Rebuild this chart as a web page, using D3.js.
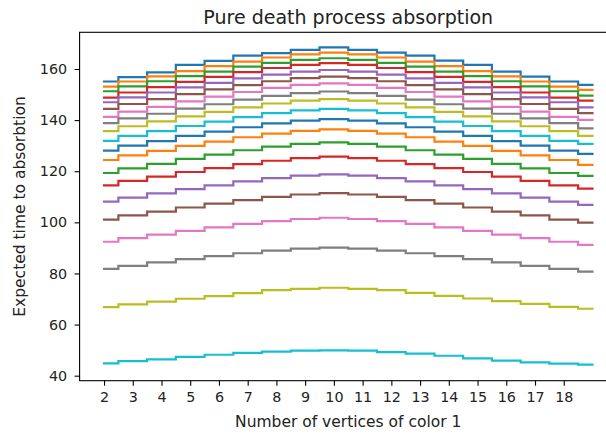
<!DOCTYPE html>
<html>
<head>
<meta charset="utf-8">
<script src="https://cdn.jsdelivr.net/npm/d3@7"></script>
<style>
  html, body { margin: 0; padding: 0; background: #fff; }
  svg { display: block; font-family: "DejaVu Sans", sans-serif; }
</style>
</head>
<body>
<svg id="chart" width="606" height="435"></svg>
<script>
// ---------- data ----------
const xValues = [2,3,4,5,6,7,8,9,10,11,12,13,14,15,16,17,18,19];
const xTickValues = [2,3,4,5,6,7,8,9,10,11,12,13,14,15,16,17,18];
const yTickValues = [40,60,80,100,120,140,160];

const line00 = [155.1,156.8,158.7,161.6,163.2,165.2,166.2,167.5,168.5,167.5,166.4,165.2,163.3,161.6,159.0,157.0,155.1,153.8];
const line01 = [153.1,155.1,157.1,159.2,161.1,162.9,164.5,165.7,166.4,165.7,164.5,162.9,161.1,159.2,157.1,155.1,153.1,151.8];
const line02 = [151.3,153.2,155.2,157.2,159.0,160.9,162.4,163.6,164.2,163.6,162.4,160.9,159.0,157.2,155.2,153.2,151.3,149.6];
const line03 = [148.8,150.8,152.9,155.0,156.9,158.8,160.4,161.6,162.3,161.6,160.4,158.8,156.9,155.0,152.9,150.8,148.8,147.6];
const line04 = [147.0,148.9,150.8,152.8,154.6,156.3,157.8,159.0,159.6,159.0,157.8,156.3,154.6,152.8,150.8,148.9,147.0,145.0];
const line05 = [144.4,146.3,148.2,150.2,152.0,153.7,155.2,156.4,157.0,156.4,155.2,153.7,152.0,150.2,148.2,146.3,144.4,142.7];
const line06 = [141.3,143.3,145.2,147.3,149.2,151.0,152.6,153.8,154.4,153.8,152.6,151.0,149.2,147.3,145.2,143.3,141.3,140.1];
const line07 = [138.8,140.7,142.5,144.5,146.2,148.0,149.5,150.6,151.2,150.6,149.5,148.0,146.2,144.5,142.5,140.7,138.8,136.8];
const line08 = [135.7,137.6,139.5,141.5,143.2,145.0,146.5,147.6,148.2,147.6,146.5,145.0,143.2,141.5,139.5,137.6,135.7,133.8];
const line09 = [131.9,133.8,135.7,137.7,139.4,141.2,142.7,143.8,144.4,143.8,142.7,141.2,139.4,137.7,135.7,133.8,131.9,130.7];
const line10 = [128.1,130.0,131.8,133.8,135.5,137.2,138.7,139.8,140.4,139.8,138.7,137.2,135.5,133.8,131.8,130.0,128.1,126.8];
const line11 = [124.4,126.2,128.0,129.9,131.6,133.3,134.7,135.8,136.4,135.8,134.7,133.3,131.6,129.9,128.0,126.2,124.4,122.5];
const line12 = [119.3,121.1,122.9,124.8,126.5,128.2,129.6,130.7,131.3,130.7,129.6,128.2,126.5,124.8,122.9,121.1,119.3,118.2];
const line13 = [114.5,116.2,117.9,119.7,121.2,122.8,124.1,125.1,125.7,125.1,124.1,122.8,121.2,119.7,117.9,116.2,114.5,113.2];
const line14 = [108.1,109.7,111.3,113.0,114.5,116.0,117.3,118.3,118.8,118.3,117.3,116.0,114.5,113.0,111.3,109.7,108.1,106.8];
const line15 = [101.1,102.7,104.2,105.8,107.3,108.7,110.0,110.9,111.4,110.9,110.0,108.7,107.3,105.8,104.2,102.7,101.1,99.9];
const line16 = [92.4,93.8,95.2,96.7,98.0,99.4,100.5,101.3,101.8,101.3,100.5,99.4,98.0,96.7,95.2,93.8,92.4,91.2];
const line17 = [81.8,83.0,84.3,85.6,86.8,87.9,88.9,89.7,90.1,89.7,88.9,87.9,86.8,85.6,84.3,83.0,81.8,80.7];
const line18 = [66.8,67.9,69.0,70.1,71.1,72.3,73.5,74.0,74.4,74.0,73.5,72.4,71.2,70.2,69.2,68.1,66.9,66.2];
const line19 = [44.8,45.7,46.4,47.4,48.2,48.9,49.4,49.8,49.9,49.8,49.2,48.6,47.8,46.8,45.9,45.2,44.7,44.3];

const allLines = [line00,line01,line02,line03,line04,line05,line06,line07,line08,line09,
                  line10,line11,line12,line13,line14,line15,line16,line17,line18,line19];

const palette = ["#1f77b4","#ff7f0e","#2ca02c","#d62728","#9467bd",
                 "#8c564b","#e377c2","#7f7f7f","#bcbd22","#17becf"];

const titleText = "Pure death process absorption";
const xLabelText = "Number of vertices of color 1";
const yLabelText = "Expected time to absorbtion";

// ---------- layout ----------
const plotLeft = 79.6, plotRight = 616.9, plotTop = 32.3, plotBottom = 380.7;

const x = d3.scaleLinear().domain([1.15, 19.85]).range([plotLeft, plotRight]);
const y = d3.scaleLinear().domain([38.04, 174.36]).range([plotBottom, plotTop]);

const svg = d3.select("#chart");

// lines
const lineGen = d3.line()
  .x((d, i) => x(xValues[i]))
  .y(d => y(d))
  .curve(d3.curveStep);

svg.append("g").selectAll("path")
  .data(allLines)
  .join("path")
  .attr("d", d => lineGen(d))
  .attr("fill", "none")
  .attr("stroke", (d, i) => palette[i % palette.length])
  .attr("stroke-width", 2.2)
  .attr("stroke-linejoin", "miter")
  .attr("stroke-linecap", "square");

// axes
const xAxis = d3.axisBottom(x).tickValues(xTickValues).tickFormat(d3.format("d"))
  .tickSize(5).tickPadding(6.5);
const yAxis = d3.axisLeft(y).tickValues(yTickValues).tickFormat(d3.format("d"))
  .tickSize(5).tickPadding(7.5);

const gx = svg.append("g").attr("transform", `translate(0,${plotBottom})`).call(xAxis);
const gy = svg.append("g").attr("transform", `translate(${plotLeft},0)`).call(yAxis);
[gx, gy].forEach(g => {
  g.select(".domain").remove();
  g.selectAll(".tick line").attr("stroke", "#000").attr("stroke-width", 1.1);
  g.selectAll(".tick text").attr("fill", "#222").style("font-size", "14.3px")
    .style("font-family", "'DejaVu Sans', sans-serif");
});

// frame (spines)
svg.append("rect")
  .attr("x", plotLeft).attr("y", plotTop)
  .attr("width", plotRight - plotLeft).attr("height", plotBottom - plotTop)
  .attr("fill", "none").attr("stroke", "#000").attr("stroke-width", 1.1);

// title
svg.append("text")
  .attr("x", (plotLeft + plotRight) / 2).attr("y", 24)
  .attr("text-anchor", "middle")
  .attr("fill", "#222")
  .style("font-size", "19px")
  .text(titleText);

// x label
svg.append("text")
  .attr("x", (plotLeft + plotRight) / 2).attr("y", 427)
  .attr("text-anchor", "middle")
  .attr("fill", "#222")
  .style("font-size", "15.5px")
  .text(xLabelText);

// y label
svg.append("text")
  .attr("transform", `translate(25,${(plotTop + plotBottom) / 2}) rotate(-90)`)
  .attr("text-anchor", "middle")
  .attr("fill", "#222")
  .style("font-size", "15.5px")
  .text(yLabelText);
</script>
</body>
</html>
